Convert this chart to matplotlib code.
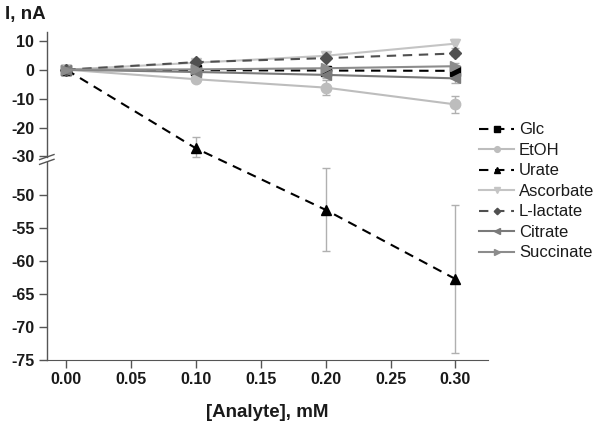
import numpy as np
import matplotlib
matplotlib.use("Agg")
import matplotlib.pyplot as plt

plt.rcParams['font.family'] = ['Liberation Sans', 'DejaVu Sans']

conc = [0.0, 0.1, 0.2, 0.3]

glc = [0.0, -0.2, -0.3, -0.4]
glc_err = [0.0, 0.5, 0.5, 0.8]
etoh = [0.0, -3.3, -6.2, -12.0]
etoh_err = [0.0, 1.0, 2.5, 3.0]
urate = [0.0, -27.2, -52.2, -62.7]
urate_err = [0.0, 3.8, 6.3, 11.2]
ascorbate = [0.0, 2.4, 4.8, 9.0]
ascorbate_err = [0.0, 0.8, 1.2, 1.5]
lactate = [0.0, 2.6, 4.0, 5.6]
lactate_err = [0.0, 0.5, 0.6, 0.8]
citrate = [0.0, -0.8, -1.8, -3.0]
citrate_err = [0.0, 0.8, 1.2, 1.5]
succinate = [0.0, 0.1, 0.5, 1.2]
succinate_err = [0.0, 0.5, 0.8, 1.0]

xticks = [0.0, 0.05, 0.1, 0.15, 0.2, 0.25, 0.3]
yticks = [10, 0, -10, -20, -30, -50, -55, -60, -65, -70, -75]

# broken y axis done with a piecewise linear scale (pixels per unit differ above/below the break)
brk_v = [-200.0, -45.0, -30.0, 200.0]
brk_p = [-195 + 6.6 * (-200 + 50), -162.0, -156.0, -69 + 2.9 * 200]


def fwd(v):
    return np.interp(v, brk_v, brk_p)


def inv(p):
    return np.interp(p, brk_p, brk_v)


fig = plt.figure(figsize=(6, 4.22), dpi=100)
ax = fig.add_axes([0.078, 0.147, 0.735, 0.777])
ax.set_yscale('function', functions=(fwd, inv))

ecol = '#b0b0b0'
dash = (0, (4.5, 3.2))
series = [
    ('Glc', glc, glc_err, 'black', dash, 's'),
    ('EtOH', etoh, etoh_err, '#bdbdbd', '-', 'o'),
    ('Urate', urate, urate_err, 'black', dash, '^'),
    ('Ascorbate', ascorbate, ascorbate_err, '#c4c4c4', '-', 'v'),
    ('L-lactate', lactate, lactate_err, '#505050', dash, 'D'),
    ('Citrate', citrate, citrate_err, '#7a7a7a', '-', '<'),
    ('Succinate', succinate, succinate_err, '#8c8c8c', '-', '>'),
]

handles = []
for name, vals, err, col, ls, mk in series:
    ax.errorbar(conc, vals, yerr=err, fmt='none', ecolor=ecol, elinewidth=1,
                capsize=3, capthick=1, zorder=1)
    ms = 6 if mk == 'D' else 7.5
    h, = ax.plot(conc, vals, color=col, linestyle=ls, linewidth=1.5,
                 marker=mk, markersize=ms, label=name, zorder=3)
    handles.append(h)

ax.set_xlim(-0.015, 0.325)
ax.set_ylim(-75, 13)
ax.set_xticks(xticks)
ax.set_xticklabels(['%.2f' % t for t in xticks])
ax.set_yticks(yticks)
ax.set_yticklabels([str(t) for t in yticks])

for s in ['top', 'right', 'left']:
    ax.spines[s].set_visible(False)
ax.spines['bottom'].set_color('#555555')
ax.tick_params(axis='both', colors='#555555', labelcolor='#1a1a1a',
               labelsize=11.5, length=6, width=1, pad=3)
for lab in ax.get_xticklabels() + ax.get_yticklabels():
    lab.set_fontweight('bold')

# left spine with the break
tr = ax.get_yaxis_transform()
ax.plot([0, 0], [13, -31.5], color='#555555', lw=1, transform=tr, clip_on=False, zorder=5)
ax.plot([0, 0], [-43.5, -75], color='#555555', lw=1, transform=tr, clip_on=False, zorder=5)
x0 = ax.transAxes.transform((0, 0))[0]
for yb in [-31.5, -43.5]:
    p = ax.transData.transform((0, yb))
    fx, fy = fig.transFigure.inverted().transform((x0, p[1]))
    fig.add_artist(plt.Line2D([fx - 0.012, fx + 0.012], [fy - 0.006, fy + 0.006],
                              color='#555555', lw=1))

fig.text(0.008, 0.955, 'I, nA', fontsize=13.5, fontweight='bold', color='#1a1a1a',
         va='baseline')
ax.set_xlabel('[Analyte], mM', fontsize=13.5, fontweight='bold', color='#1a1a1a',
              labelpad=12)

leg = ax.legend(handles=handles, loc='upper left', bbox_to_anchor=(0.965, 0.745),
                frameon=False, fontsize=12, handlelength=2.1, handletextpad=0.3,
                labelspacing=0.33, markerscale=0.55, borderaxespad=0.0)
for t in leg.get_texts():
    t.set_color('#1a1a1a')

fig.savefig('out.png', dpi=100)
